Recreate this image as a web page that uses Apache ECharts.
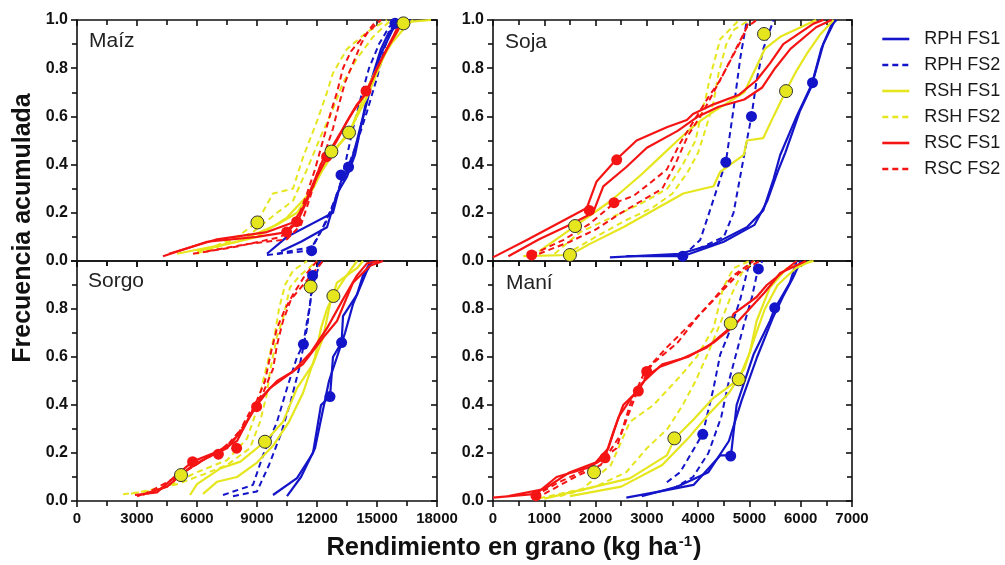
<!DOCTYPE html>
<html>
<head>
<meta charset="utf-8">
<script src="https://cdn.jsdelivr.net/npm/echarts@6/dist/echarts.min.js"></script>
<style>
  html, body { margin: 0; padding: 0; background: #fff; }
  #chart { width: 1005px; height: 565px; }
</style>
</head>
<body>
<div id="chart"></div>
<script>
// Cumulative yield frequency curves, [yield kg/ha, cumulative frequency]
// Two runs per treatment and crop.

// ---- Maíz ----
const maizRphFs1 = [
  [[9500,0.03],[10500,0.10],[12800,0.20],[13200,0.33],[13600,0.38],[14000,0.50],[14300,0.60],[14600,0.72],[14900,0.80],[15200,0.88],[15600,0.95],[16400,1.00]],
  [[10200,0.04],[11200,0.08],[12500,0.14],[13000,0.28],[13500,0.35],[13900,0.44],[14200,0.56],[14500,0.66],[14800,0.76],[15200,0.86],[15900,0.98],[16700,1.00]]
];
const maizRphFs2 = [
  [[9500,0.025],[11650,0.043],[12300,0.14],[13000,0.27],[13500,0.38],[14000,0.49],[14500,0.62],[15000,0.76],[15400,0.89],[15800,0.98],[16100,1.00]],
  [[10000,0.03],[11800,0.06],[12500,0.17],[13100,0.30],[13400,0.40],[13800,0.55],[14200,0.68],[14600,0.80],[15100,0.90],[15600,0.97],[16000,1.00]]
];
const maizRshFs1 = [
  [[5000,0.03],[8000,0.08],[10000,0.15],[11000,0.20],[11800,0.30],[12700,0.45],[13300,0.50],[13600,0.53],[14000,0.60],[14500,0.68],[15000,0.78],[15500,0.88],[16000,0.95],[16300,0.99],[17700,1.00]],
  [[6000,0.04],[9000,0.10],[10500,0.18],[11500,0.27],[12300,0.38],[13000,0.47],[13700,0.55],[14200,0.65],[14700,0.75],[15200,0.83],[15700,0.90],[16400,0.97],[16800,1.00]]
];
const maizRshFs2 = [
  [[6000,0.03],[8000,0.10],[9000,0.16],[9800,0.28],[10800,0.30],[11300,0.43],[12000,0.58],[12500,0.70],[12800,0.78],[13500,0.88],[14500,0.95],[15500,1.00]],
  [[6500,0.04],[8800,0.12],[10000,0.20],[10800,0.25],[11500,0.38],[12200,0.52],[12800,0.63],[13300,0.74],[14000,0.84],[14800,0.93],[15700,1.00]]
];
const maizRscFs1 = [
  [[4300,0.02],[6500,0.08],[9000,0.10],[10500,0.12],[11000,0.16],[11500,0.25],[12000,0.35],[12500,0.43],[13000,0.50],[13500,0.58],[14000,0.65],[14500,0.70],[15000,0.80],[15500,0.88],[16000,0.95],[16300,1.00]],
  [[4600,0.03],[7000,0.09],[9500,0.12],[10800,0.16],[11300,0.22],[11800,0.32],[12300,0.42],[12800,0.48],[13300,0.55],[13800,0.62],[14300,0.68],[14800,0.76],[15300,0.85],[15800,0.93],[16200,1.00]]
];
const maizRscFs2 = [
  [[6500,0.04],[8500,0.07],[10500,0.09],[11200,0.15],[11600,0.25],[12000,0.36],[12400,0.45],[12800,0.55],[13100,0.65],[13400,0.74],[13800,0.82],[14200,0.90],[14600,0.96],[15000,1.00]],
  [[5800,0.03],[8000,0.06],[10200,0.10],[11000,0.17],[11500,0.28],[11900,0.38],[12300,0.50],[12700,0.62],[13000,0.70],[13300,0.80],[13700,0.87],[14300,0.93],[15200,1.00]]
];
const maizRphDots = [[11730,0.043],[13200,0.357],[13580,0.39],[15900,0.986]];
const maizRshDots = [[9020,0.16],[12720,0.454],[13600,0.533],[16320,0.986]];
const maizRscDots = [[10480,0.12],[10980,0.163],[12480,0.433],[14450,0.705]];

// ---- Soja ----
const sojaRphFs1 = [
  [[2280,0.015],[3650,0.03],[4300,0.07],[4950,0.14],[5270,0.21],[5470,0.34],[5600,0.44],[5920,0.60],[6230,0.74],[6440,0.90],[6670,1.00]],
  [[2600,0.02],[3700,0.02],[4500,0.08],[5100,0.15],[5350,0.25],[5550,0.37],[5700,0.45],[5980,0.62],[6200,0.72],[6400,0.88],[6600,0.98],[6700,1.00]]
];
const sojaRphFs2 = [
  [[3700,0.02],[4040,0.087],[4230,0.21],[4430,0.34],[4540,0.41],[4690,0.63],[4820,0.84],[4950,1.00]],
  [[4000,0.05],[4500,0.10],[4690,0.20],[4820,0.35],[4950,0.50],[5040,0.60],[5140,0.75],[5270,0.88],[5470,1.00]]
];
const sojaRshFs1 = [
  [[590,0.02],[1500,0.025],[1880,0.07],[2540,0.14],[3710,0.28],[4300,0.31],[4430,0.37],[4890,0.44],[4950,0.50],[5270,0.51],[5470,0.60],[5710,0.705],[5920,0.79],[6120,0.86],[6380,0.94],[6640,1.00]],
  [[900,0.04],[1600,0.145],[2300,0.25],[2900,0.36],[3250,0.43],[3600,0.50],[3970,0.57],[4300,0.62],[4900,0.70],[5300,0.88],[5600,0.93],[6000,0.97],[6300,1.00]]
];
const sojaRshFs2 = [
  [[1200,0.03],[1700,0.12],[2300,0.18],[2900,0.24],[3400,0.30],[3700,0.40],[3950,0.50],[4050,0.60],[4150,0.68],[4230,0.76],[4430,0.92],[4800,1.00]],
  [[1400,0.025],[2000,0.10],[2600,0.17],[3100,0.22],[3500,0.28],[3800,0.37],[4000,0.45],[4150,0.55],[4300,0.66],[4400,0.78],[4550,0.90],[4700,0.96],[5000,1.00]]
];
const sojaRscFs1 = [
  [[0,0.015],[660,0.087],[1300,0.16],[1830,0.22],[2020,0.33],[2400,0.42],[2800,0.50],[3400,0.556],[3780,0.585],[3900,0.61],[4300,0.65],[4800,0.69],[5140,0.75],[5400,0.82],[5660,0.90],[6250,0.985],[6440,1.00]],
  [[300,0.02],[900,0.09],[1500,0.15],[1950,0.20],[2150,0.31],[2600,0.39],[3000,0.47],[3600,0.54],[4000,0.60],[4400,0.64],[4900,0.67],[5250,0.72],[5500,0.80],[5800,0.88],[6300,0.97],[6600,1.00]]
];
const sojaRscFs2 = [
  [[750,0.025],[1370,0.087],[1890,0.155],[2360,0.24],[2740,0.27],[3100,0.33],[3390,0.38],[3650,0.49],[3970,0.60],[4200,0.68],[4430,0.75],[4690,0.86],[4950,0.97],[5140,1.00]],
  [[900,0.03],[1500,0.08],[2000,0.13],[2500,0.20],[2900,0.25],[3300,0.30],[3550,0.40],[3800,0.52],[4100,0.62],[4350,0.72],[4600,0.82],[4850,0.92],[5000,1.00]]
];
const sojaRphDots = [[3700,0.02],[4540,0.41],[5040,0.60],[6230,0.74]];
const sojaRshDots = [[1500,0.025],[1600,0.145],[5285,0.942],[5714,0.705]];
const sojaRscDots = [[754,0.025],[1878,0.21],[2412,0.42],[2359,0.242]];

// ---- Sorgo ----
const sorgoRphFs1 = [
  [[9800,0.025],[11000,0.095],[11800,0.20],[12200,0.40],[12650,0.435],[12800,0.60],[13230,0.66],[13300,0.77],[14000,0.86],[14300,0.94],[14700,1.00]],
  [[10500,0.02],[11200,0.10],[11900,0.22],[12300,0.38],[12600,0.50],[13000,0.60],[13400,0.70],[13800,0.82],[14200,0.90],[14500,0.96],[14800,1.00]]
];
const sorgoRphFs2 = [
  [[7300,0.025],[8800,0.067],[9300,0.19],[10000,0.33],[10500,0.47],[11000,0.60],[11300,0.65],[11650,0.82],[11800,0.94],[12150,1.00]],
  [[7800,0.02],[9000,0.04],[9600,0.15],[10200,0.28],[10700,0.42],[11100,0.55],[11500,0.72],[11700,0.85],[11900,0.93],[12200,1.00]]
];
const sorgoRshFs1 = [
  [[5650,0.025],[6000,0.07],[7170,0.136],[8170,0.164],[9400,0.247],[10300,0.33],[11000,0.47],[11800,0.57],[12300,0.68],[12650,0.82],[13000,0.91],[14000,0.97],[14300,1.00]],
  [[6300,0.03],[7000,0.08],[8000,0.10],[9000,0.16],[9800,0.23],[10600,0.33],[11300,0.45],[11900,0.60],[12200,0.72],[12500,0.80],[12800,0.854],[13400,0.93],[14000,1.00]]
];
const sorgoRshFs2 = [
  [[2300,0.028],[3500,0.04],[5000,0.07],[6300,0.11],[7500,0.15],[8650,0.22],[9150,0.33],[9480,0.44],[9650,0.54],[9980,0.68],[10300,0.76],[10650,0.89],[11150,0.94],[12000,1.00]],
  [[2700,0.03],[4500,0.06],[6000,0.12],[7500,0.17],[8500,0.26],[9000,0.38],[9300,0.50],[9600,0.60],[9900,0.70],[10100,0.80],[10400,0.90],[10800,0.96],[11500,1.00]]
];
const sorgoRscFs1 = [
  [[2900,0.025],[4000,0.036],[5000,0.11],[5780,0.164],[7000,0.205],[8000,0.25],[8500,0.33],[9000,0.40],[9650,0.47],[10300,0.51],[11300,0.57],[12300,0.68],[13000,0.75],[13800,0.91],[14650,0.98],[15300,1.00]],
  [[3500,0.03],[4500,0.06],[5500,0.13],[6500,0.18],[7500,0.22],[8300,0.30],[8800,0.38],[9300,0.44],[10000,0.50],[10800,0.54],[11700,0.62],[12500,0.72],[13300,0.84],[14000,0.94],[14500,0.99],[15100,1.00]]
];
const sorgoRscFs2 = [
  [[3000,0.02],[4500,0.06],[5800,0.15],[7000,0.20],[8000,0.27],[8700,0.38],[9300,0.45],[9800,0.55],[10000,0.65],[10300,0.75],[10700,0.84],[11300,0.90],[12000,0.97],[12300,1.00]],
  [[3300,0.025],[5000,0.10],[6300,0.17],[7500,0.23],[8500,0.33],[9000,0.42],[9400,0.50],[9700,0.62],[10000,0.72],[10400,0.80],[10800,0.86],[11400,0.94],[12000,1.00]]
];
const sorgoRphDots = [[11780,0.94],[11320,0.653],[12650,0.435],[13230,0.66]];
const sorgoRshDots = [[5200,0.108],[9400,0.247],[11680,0.893],[12820,0.854]];
const sorgoRscDots = [[5780,0.164],[7070,0.195],[7980,0.22],[8980,0.393]];

// ---- Maní ----
const maniRphFs1 = [
  [[2600,0.014],[3260,0.04],[3910,0.067],[4430,0.19],[4640,0.19],[4750,0.40],[5080,0.61],[5400,0.75],[5490,0.80],[5790,0.91],[5920,1.00]],
  [[2900,0.02],[3600,0.06],[4200,0.12],[4600,0.25],[4850,0.42],[5150,0.60],[5450,0.76],[5650,0.85],[5850,0.93],[6000,1.00]]
];
const maniRphFs2 = [
  [[3390,0.078],[3650,0.12],[4090,0.28],[4300,0.47],[4430,0.61],[4620,0.71],[4820,0.84],[4950,0.95],[5010,1.00]],
  [[3500,0.05],[3900,0.10],[4200,0.20],[4450,0.35],[4600,0.50],[4750,0.62],[4900,0.74],[5050,0.85],[5150,0.95],[5250,1.00]]
];
const maniRshFs1 = [
  [[1000,0.01],[2670,0.094],[3390,0.19],[3540,0.26],[3910,0.34],[4300,0.43],[4790,0.507],[5010,0.62],[5140,0.75],[5400,0.89],[5730,0.97],[6250,1.00]],
  [[1500,0.02],[2500,0.06],[3300,0.15],[3800,0.26],[4200,0.36],[4600,0.45],[4900,0.55],[5100,0.68],[5300,0.80],[5550,0.90],[5900,0.97],[6200,1.00]]
];
const maniRshFs2 = [
  [[900,0.011],[1740,0.05],[2300,0.15],[2670,0.33],[3130,0.40],[3650,0.52],[3970,0.60],[4300,0.72],[4490,0.89],[4690,0.97],[5000,1.00]],
  [[1300,0.02],[2000,0.06],[2600,0.12],[3000,0.22],[3400,0.30],[3700,0.40],[3950,0.50],[4200,0.62],[4450,0.75],[4650,0.86],[4850,0.95],[5100,1.00]]
];
const maniRscFs1 = [
  [[0,0.014],[840,0.03],[1240,0.10],[1870,0.14],[2180,0.18],[2350,0.29],[2540,0.40],[2830,0.46],[3000,0.52],[3260,0.56],[3650,0.59],[4170,0.64],[4560,0.71],[4690,0.78],[5140,0.85],[5340,0.90],[5920,1.00]],
  [[300,0.02],[1000,0.05],[1500,0.12],[2000,0.16],[2250,0.22],[2450,0.35],[2700,0.43],[2950,0.50],[3300,0.57],[3800,0.60],[4300,0.66],[4700,0.73],[5000,0.80],[5300,0.87],[5600,0.95],[6100,1.00]]
];
const maniRscFs2 = [
  [[800,0.02],[1300,0.08],[1870,0.136],[2410,0.22],[2670,0.40],[2960,0.54],[3390,0.64],[3910,0.75],[4300,0.84],[4690,0.94],[5080,1.00]],
  [[1000,0.03],[1600,0.10],[2100,0.15],[2500,0.28],[2800,0.45],[3100,0.57],[3600,0.66],[4000,0.77],[4400,0.86],[4800,0.95],[5200,1.00]]
];
const maniRphDots = [[4090,0.278],[4635,0.1875],[5174,0.967],[5493,0.805]];
const maniRshDots = [[1970,0.12],[3536,0.261],[4635,0.74],[4791,0.507]];
const maniRscDots = [[838,0.022],[2184,0.18],[2834,0.458],[2997,0.54]];

// Panel titles and axis ranges
const cropNames = ['Maíz', 'Soja', 'Sorgo', 'Maní'];
const xMaxima = [18000, 7000, 18000, 7000];
const xSteps = [3000, 1000, 3000, 1000];
const seriesNames = ['RPH FS1', 'RPH FS2', 'RSH FS1', 'RSH FS2', 'RSC FS1', 'RSC FS2'];

const panelRuns = [
  [maizRphFs1, maizRphFs2, maizRshFs1, maizRshFs2, maizRscFs1, maizRscFs2],
  [sojaRphFs1, sojaRphFs2, sojaRshFs1, sojaRshFs2, sojaRscFs1, sojaRscFs2],
  [sorgoRphFs1, sorgoRphFs2, sorgoRshFs1, sorgoRshFs2, sorgoRscFs1, sorgoRscFs2],
  [maniRphFs1, maniRphFs2, maniRshFs1, maniRshFs2, maniRscFs1, maniRscFs2]
];
const panelDots = [
  [maizRphDots, maizRshDots, maizRscDots],
  [sojaRphDots, sojaRshDots, sojaRscDots],
  [sorgoRphDots, sorgoRshDots, sorgoRscDots],
  [maniRphDots, maniRshDots, maniRscDots]
];

// ---- styling ----
const BLUE = '#1414c8', YELLOW = '#e6e61e', RED = '#f51414';
const groupColors = [BLUE, BLUE, YELLOW, YELLOW, RED, RED];
const FONT = '"Liberation Sans", Arial, Helvetica, sans-serif';
const AX = '#111';

const gridBoxes = [
  { left: 77, top: 20, width: 360, height: 241 },
  { left: 493, top: 20, width: 359, height: 241 },
  { left: 77, top: 261, width: 360, height: 240 },
  { left: 493, top: 261, width: 359, height: 240 }
];

const axisLine = { show: true, onZero: false, lineStyle: { color: AX, width: 1.6 } };
const tickStyle = { color: AX, width: 1.6 };
const xAxes = [], yAxes = [];
gridBoxes.forEach((g, i) => {
  const bottomRow = i >= 2;
  const common = { type: 'value', gridIndex: i, min: 0, max: xMaxima[i], interval: xSteps[i], splitLine: { show: false }, axisLine };
  xAxes.push(Object.assign({}, common, {
    position: 'bottom',
    axisTick: { show: true, inside: false, length: 6, lineStyle: tickStyle },
    minorTick: { show: true, splitNumber: 2, length: 5, lineStyle: tickStyle },
    axisLabel: {
      show: bottomRow, margin: 10, color: '#111', fontFamily: FONT, fontWeight: 'bold', fontSize: 15,
      formatter: v => String(v)
    }
  }));
  xAxes.push(Object.assign({}, common, {
    position: 'top',
    axisTick: { show: true, inside: true, length: 6, lineStyle: tickStyle },
    minorTick: { show: true, splitNumber: 2, length: 5, lineStyle: tickStyle },
    axisLabel: { show: false }
  }));
  const ycommon = { type: 'value', gridIndex: i, min: 0, max: 1, interval: 0.2, splitLine: { show: false }, axisLine };
  yAxes.push(Object.assign({}, ycommon, {
    position: 'left',
    axisTick: { show: true, inside: false, length: 6, lineStyle: tickStyle },
    minorTick: { show: true, splitNumber: 2, length: 5, lineStyle: tickStyle },
    axisLabel: {
      show: true, margin: 9, color: '#111', fontFamily: FONT, fontWeight: 'bold', fontSize: 16,
      showMaxLabel: !bottomRow, formatter: v => v.toFixed(1)
    }
  }));
  yAxes.push(Object.assign({}, ycommon, {
    position: 'right',
    axisTick: { show: true, inside: true, length: 6, lineStyle: tickStyle },
    minorTick: { show: true, splitNumber: 2, length: 5, lineStyle: tickStyle },
    axisLabel: { show: false }
  }));
});

// Line series: blue first, then yellow, then red on top
const series = [];
panelRuns.forEach((runs, p) => {
  runs.forEach((group, k) => {
    group.forEach(run => {
      series.push({
        type: 'line', name: seriesNames[k], xAxisIndex: 2 * p, yAxisIndex: 2 * p,
        data: run, showSymbol: false, symbol: 'none', silent: true, animation: false,
        color: groupColors[k],
        lineStyle: { color: groupColors[k], width: k % 2 === 0 ? 2.2 : 2, type: k % 2 === 0 ? 'solid' : [6, 4] },
        z: 2 + Math.floor(k / 2)
      });
    });
  });
});

// Marker series per panel
panelDots.forEach((dots, p) => {
  series.push({
    type: 'scatter', name: 'RPH marca', xAxisIndex: 2 * p, yAxisIndex: 2 * p, data: dots[0],
    symbolSize: 11, itemStyle: { color: BLUE, opacity: 1 }, z: 10, animation: false, clip: false
  });
  series.push({
    type: 'scatter', name: 'RSC marca', xAxisIndex: 2 * p, yAxisIndex: 2 * p, data: dots[2],
    symbolSize: 11, itemStyle: { color: RED, opacity: 1 }, z: 10, animation: false, clip: false
  });
  series.push({
    type: 'scatter', name: 'RSH marca', xAxisIndex: 2 * p, yAxisIndex: 2 * p, data: dots[1],
    symbolSize: 13, itemStyle: { color: YELLOW, borderColor: '#333', borderWidth: 1, opacity: 1 }, z: 11, animation: false, clip: false
  });
});

// Panel titles and axis titles
const titlePos = [[89, 41], [505, 42], [88, 281], [506, 283]];
const graphics = cropNames.map((name, i) => ({
  type: 'text', x: titlePos[i][0], y: titlePos[i][1], silent: true,
  style: { text: name, fontFamily: FONT, fontSize: 21, fill: '#222', align: 'left', verticalAlign: 'middle' }
}));
graphics.push({
  type: 'text', x: 23, y: 228, rotation: Math.PI / 2, silent: true,
  style: { text: 'Frecuencia acumulada', fontFamily: FONT, fontSize: 25, fontWeight: 'bold', fill: '#111', align: 'center', verticalAlign: 'middle' }
});
graphics.push({
  type: 'text', x: 514, y: 548, silent: true,
  style: {
    text: '{t|Rendimiento en grano (kg ha}{s|-1}{t|)}', align: 'center', verticalAlign: 'middle',
    rich: {
      t: { fontFamily: FONT, fontSize: 25.5, fontWeight: 'bold', fill: '#111', color: '#111' },
      s: { fontFamily: FONT, fontSize: 15, fontWeight: 'bold', fill: '#111', color: '#111', verticalAlign: 'top', padding: [0, 1, 12, 1] }
    }
  }
});

const chart = echarts.init(document.getElementById('chart'), null, { renderer: 'canvas' });
chart.setOption({
  backgroundColor: '#fff',
  animation: false,
  grid: gridBoxes.map(g => Object.assign({ containLabel: false }, g)),
  xAxis: xAxes,
  yAxis: yAxes,
  legend: {
    data: seriesNames, orient: 'vertical', left: 876, top: 25,
    itemWidth: 27, itemHeight: 12, itemGap: 8, selectedMode: false,
    itemStyle: { color: 'rgba(0,0,0,0)', borderColor: 'rgba(0,0,0,0)', borderWidth: 0 },
    lineStyle: { width: 2.6 },
    textStyle: { fontFamily: FONT, fontSize: 18, color: '#1a1a1a', padding: [0, 0, 0, 10] }
  },
  series: series,
  graphic: graphics
});
</script>
</body>
</html>
